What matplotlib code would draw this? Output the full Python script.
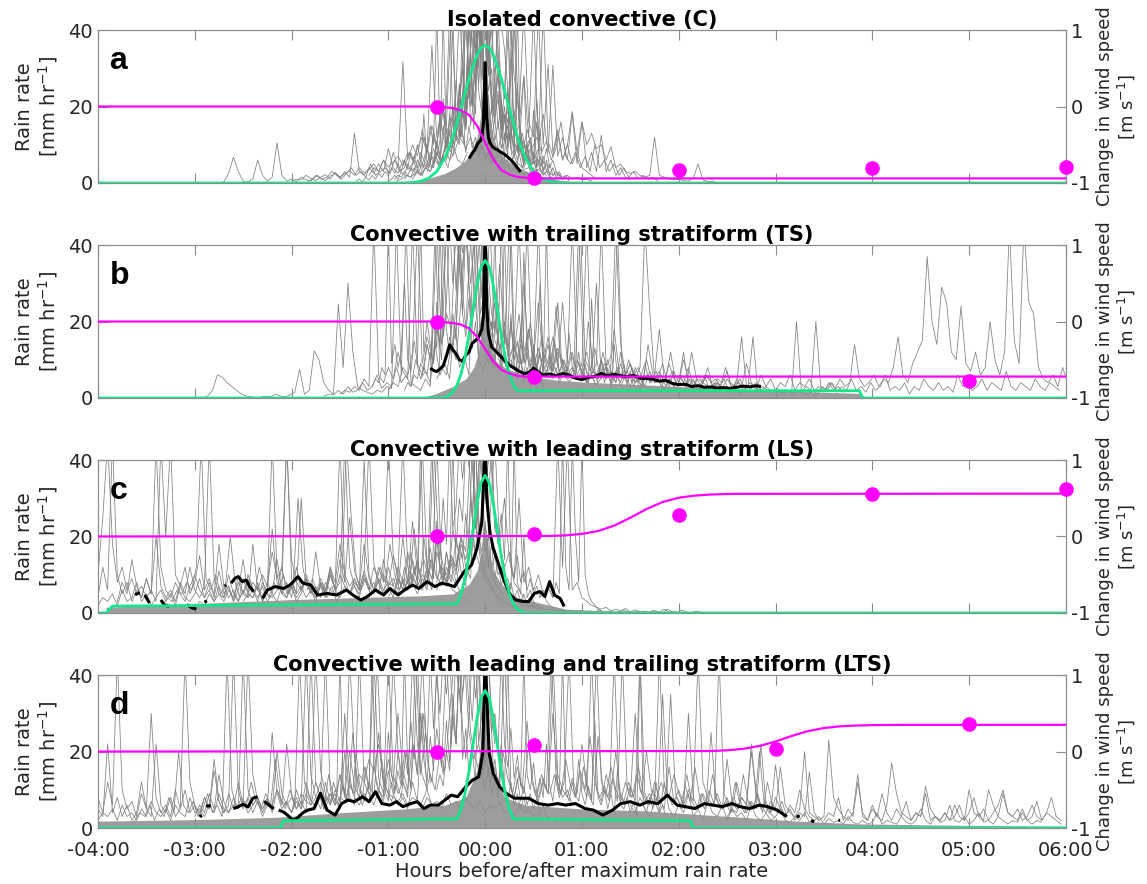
import numpy as np
import matplotlib
matplotlib.use("Agg")
import matplotlib.pyplot as plt

plt.rcParams["font.family"] = ["DejaVu Sans"]
plt.rcParams["axes.unicode_minus"] = False

GRAY_STEP = 3  # default minutes between samples of an event trace

TITLES = [
    "Isolated convective (C)",
    "Convective with trailing stratiform (TS)",
    "Convective with leading stratiform (LS)",
    "Convective with leading and trailing stratiform (LTS)",
]
LETTERS = ["a", "b", "c", "d"]
HOUR_TICKS = [-4, -3, -2, -1, 0, 1, 2, 3, 4, 5, 6]

# event traces: (start minute, rain rates[, sample step in minutes])

# ---------------- panel a: isolated convective ----------------
gray_a = [
    (-165, [0, 0.3, 2.5, 6.8, 3, 0.5, 0.3, 1, 6, 2, 0.5, 1.5, 10.5, 2, 0.5, 1, 0.3, 1.5, 0.8, 0.5,
            2, 1.2, 0.6, 1.8, 2.5, 1.2, 3, 1.5, 13, 3, 2, 4, 2.5, 5, 3, 9, 4, 2.5, 6, 3.5, 5]),
    (-72, [2, 4, 3, 6, 2.5, 8, 4, 31.7, 6, 10, 7, 14, 9, 36, 12, 20, 15, 45, 18, 26, 45, 20, 30, 45,
           24, 38, 45, 30, 22, 45, 28, 18, 45, 16, 12, 45, 10, 31, 8, 14, 6, 10, 5, 8, 4, 3, 2, 1]),
    (-45, [1, 3, 2, 5, 4, 8, 5, 12, 9, 18, 12, 45, 15, 25, 40, 22, 45, 28, 45, 35, 20, 45, 15, 28,
           12, 45, 10, 18, 8, 30.8, 7, 12, 6, 18.2, 5, 16, 4, 8, 3, 12.5, 3, 6, 2, 4, 1.5, 1]),
    (30, [6, 9, 45, 11, 7, 13, 6, 10, 18.7, 8, 16, 10, 13, 9, 10, 6, 9.5, 4, 5, 3, 2.5, 3, 2, 1.5,
          2, 12, 2, 1.5, 1, 0.8, 1, 0.6, 0.5, 1.2, 5, 0.8, 0.3, 0.5, 0]),
    (-30, [3, 6, 10, 8, 15, 12, 20, 26, 45, 38, 45, 30, 45, 24, 16, 20, 12, 15, 9, 11, 7, 6, 4]),
    (-40, [2, 4, 3, 7, 5, 9, 14, 10, 22, 17, 30, 45, 26, 45, 34, 19, 28, 14, 20, 11, 9, 13, 7, 5, 6, 3, 2]),
    (-55, [0.5, 1, 2, 1.5, 3, 2, 4, 3, 6, 4, 9, 6, 8, 12, 10, 45, 14, 45, 25, 10, 18, 45, 9, 15, 6,
           10, 4, 7, 3, 2]),
    (-120, [0.5, 1, 0.8, 2, 1.2, 0.6, 1.5, 2.2, 1, 2.8, 1.6, 2.4, 3.2, 2, 4, 2.6, 3.5, 5, 3, 6, 4.2,
            5.5, 7, 4.5, 8, 6, 9, 12, 8, 15, 10, 20, 13, 17, 11, 14, 9, 12, 8, 10, 7, 9, 6, 8, 5,
            6.5, 4, 5, 3.5, 4, 3, 3.5, 2.5, 3, 2, 2.5, 1.5, 2, 1, 1.5, 0.8, 1, 0.5]),
    (-50, [1, 2, 1.5, 4, 3, 6, 4, 9, 5, 14, 7, 11, 22, 9, 16, 45, 12, 20, 30, 14, 45, 25, 18, 45, 36,
           45, 28, 45, 20, 33, 15, 24, 45, 12, 19, 9, 15, 28, 8, 12, 6, 22, 7, 5, 9, 4, 6, 3, 2, 1], 2),
    (-36, [3, 5, 4, 8, 6, 12, 9, 18, 11, 27, 14, 45, 19, 24, 45, 33, 45, 40, 26, 45, 22, 17, 30, 13,
           20, 10, 45, 11, 8, 14, 6, 10, 5, 19, 4, 7, 3, 5, 2, 1], 2),
    (-60, [0.5, 1, 2, 1, 3, 2, 5, 3, 7, 4, 8, 6, 10, 5, 13, 9, 17, 12, 21, 45, 16, 25, 45, 31, 22, 45,
           38, 26, 45, 19, 14, 23, 11, 17, 8, 13, 6, 25, 9, 7, 5, 12, 4, 6, 3, 4, 2, 1.5, 1, 0.5], 2),
    (-24, [6, 9, 7, 13, 10, 19, 15, 28, 45, 35, 45, 27, 45, 33, 21, 16, 24, 12, 18, 9, 14, 7, 45, 8,
           5, 10, 4, 6, 3, 2], 2),
    (-44, [2, 3, 2.5, 5, 4, 7, 5, 10, 6, 15, 9, 13, 20, 12, 26, 18, 45, 22, 29, 45, 24, 18, 27, 14, 20,
           11, 16, 9, 13, 7, 35, 9, 6, 10, 5, 8, 4, 6, 3, 4, 2, 3, 1.5, 1], 2),
    (-80, [0.5, 1, 0.3, 1.5, 0.8, 2, 1, 2.5, 1.5, 3, 2, 4, 2.5, 5, 3, 6, 4, 8, 5, 10, 6, 12, 8, 15, 10,
           45, 12, 20, 14, 9, 17, 11, 25, 13, 8, 15, 9, 12, 7, 10, 6, 8, 5, 7, 4, 6, 3.5, 5, 3, 4,
           2.5, 3, 2, 2.5, 1.5, 2, 1, 1.5, 0.8, 1, 0.5, 0.8, 0.3], 2),
    (20, [10, 7, 14, 9, 12, 8, 11, 6, 9, 16, 7, 5, 8, 4, 7, 3, 10, 4, 6, 3, 5, 2, 4, 1.5, 3, 1, 2, 1,
          1.5, 0.5]),
    (-110, [0.5, 1, 2, 1, 1.5, 3, 2, 1, 2.5, 4, 2, 3, 1.5, 5, 2, 3, 4, 2.5, 6, 3, 4, 8, 5, 3, 6, 4, 9,
            5, 7, 4, 10, 6, 5, 8]),
    (-56, [1, 2, 1.5, 3, 2, 4, 3, 6, 4, 18, 5, 8, 6, 11, 7, 45, 9, 13, 10, 17, 12, 24, 15, 45, 20, 30,
           45, 38, 25, 45, 18, 28, 14, 22, 11, 17, 9, 45, 8, 12, 6, 10, 5, 8, 4, 14, 3, 6, 2, 4, 1.5,
           3, 1, 2, 0.5], 2),
    (-16, [12, 18, 14, 26, 20, 45, 30, 45, 36, 24, 30, 18, 22, 14, 18, 11, 14, 9, 26, 8, 11, 6, 9, 5,
           16, 4, 7, 3, 5, 2, 3, 1.5], 2),
]
core_a_t = [-45, -35, -25, -18, -12, -8, -5, -3, -1.5, 0, 1.5, 3, 5, 8, 12, 18, 25, 35, 45, 60]
core_a_v = [0, 1.2, 2.5, 4.0, 6.0, 8.5, 12, 17, 24, 32, 24, 17, 12, 8.5, 6.5, 4.5, 3.2, 1.8, 0.8, 0]
black_a = [(-10, 6.4), (-8, 7.8), (-6, 9.0), (-4.5, 10.4), (-3, 11.0), (-2, 12.0), (-1, 16.0),
           (0, 31.5), (1, 17.0), (2, 12.0), (3, 10.5), (4.5, 9.5), (6, 9.0), (8, 8.6), (10, 8.0),
           (12, 7.5), (14, 6.8), (16, 6.0), (18, 5.1), (20, 4.0), (22, 2.9)]
green_a_t = [-240, -55, -50, -45, -40, -35, -30, -25, -20, -15, -10, -5, -2.5, 0,
             2.5, 5, 10, 15, 20, 25, 30, 35, 40, 45, 50, 55, 360]
green_a_v = [0, 0, 0.03, 0.14, 0.45, 1.25, 3.0, 6.5, 12.0, 19.4, 27.4, 33.6, 35.4, 36,
             35.4, 33.6, 27.4, 19.4, 12.0, 6.5, 3.0, 1.25, 0.45, 0.14, 0.03, 0, 0]
wind_a_t = [-240, -30, -25, -20, -15, -10, -5, 0, 5, 10, 15, 20, 25, 30, 360]
wind_a_v = [0, 0, -0.01, -0.02, -0.05, -0.11, -0.25, -0.47, -0.69, -0.83, -0.89, -0.92, -0.93, -0.94, -0.94]
obs_a_h = [-0.5, 0.5, 2, 4, 6]
obs_a_v = [0.0, -0.94, -0.83, -0.80, -0.79]

# ---------------- panel b: trailing stratiform ----------------
gray_b = [
    (-175, [0, 0.5, 2, 6, 5.5, 4, 3, 2, 1, 0.5, 0.3, 0, 0.2, 0.5, 0.3, 1, 0.5, 0.3, 0.8, 1.5, 7.5,
            1, 2, 12.3, 10, 4, 2, 1, 24.5, 8, 30, 12, 3, 2, 1.5, 1, 2, 1.5, 3, 2.5, 45, 6, 45, 4,
            3, 2, 5, 3, 45, 6]),
    (-60, [2, 4, 3, 8, 6, 12, 45, 9, 16, 11, 45, 14, 22, 18, 45, 30, 45, 40, 26, 45, 20, 45, 16, 35,
           14, 45, 12, 22, 10, 18, 9, 45, 8, 14, 7, 12, 9, 6, 8, 5, 7, 4, 6, 3]),
    (-30, [5, 8, 6, 14, 10, 25, 45, 30, 45, 22, 28, 15, 20, 13, 17, 11, 14, 45, 12, 18, 10, 25, 9,
           16, 8, 13, 10, 7, 12, 6, 9, 45, 8, 6, 10, 5, 7, 4, 9, 5, 6, 4, 5, 3]),
    (0, [40, 20, 15, 12, 18, 10, 14, 9, 30, 11, 8, 13, 7, 10, 16, 8, 25, 9, 45, 10, 7, 12, 6, 9, 45,
         8, 11, 45, 14, 6, 9, 5, 8, 45, 23, 5, 7, 4, 9, 5, 6, 4, 8, 3, 5, 4, 6, 3, 4, 2.5, 5, 3, 4,
         16, 3, 2.5, 4, 2, 3, 2]),
    (40, [6, 8, 5, 7, 4, 6, 9, 5, 20, 7, 4, 6, 10, 5, 45, 6, 4, 8, 5, 3, 6, 4, 7, 3, 5, 12, 4, 6, 3,
          5, 4, 3, 6, 2, 4, 3, 5, 2, 3, 4, 2, 3, 16, 2, 3, 2, 1.5, 2.5, 1, 2, 1.5, 20, 2, 1, 1.5, 0.5]),
    (190, [1, 2, 1.5, 3, 2, 20, 3, 2, 4, 2.5, 5, 3, 4, 14, 5, 3, 4, 6, 3, 5, 4, 8, 16, 6, 4, 9, 12,
           15, 37, 20, 14, 29, 25, 12, 10, 24, 9, 7, 12, 6, 8, 20, 10, 6, 12, 45, 15, 9, 45, 25, 22,
           8, 5, 4, 6, 3, 8, 4]),
    (200, [1, 2, 1, 3, 2, 4, 1.5, 3, 2, 5, 2, 3, 1.5, 4, 2, 3, 6, 2, 3, 2, 4, 1, 3, 2, 5, 3, 2, 4, 2,
           3, 1.5, 6, 3, 4, 2, 3, 5, 2, 4, 3, 2, 7, 3, 2, 4, 3, 2, 5, 3, 2, 4, 3, 2]),
    (60, [9, 4, 6, 3, 10, 5, 7, 4, 12, 6, 3, 8, 5, 9, 4, 6, 18, 5, 3, 7, 4, 10, 5, 3, 6, 4, 8, 3, 5,
          4, 7, 2, 5, 3, 9, 4, 2, 6, 3, 5, 2, 4, 3, 6, 2, 4, 3, 5, 2, 3, 1.5, 4, 2, 3, 1.5, 2]),
    (-50, [2, 4, 3, 6, 5, 9, 7, 14, 10, 20, 13, 45, 16, 25, 45, 30, 45, 35, 22, 45, 28, 18, 45, 24,
           15, 30, 12, 20, 10, 16, 9, 45, 11, 8, 14, 7, 10, 6, 12, 5, 9, 4, 8, 3], 2),
    (-40, [5, 8, 6, 12, 9, 18, 14, 30, 45, 40, 45, 28, 45, 22, 16, 26, 13, 20, 10, 45, 12, 9, 15, 8,
           18, 7, 11, 6, 22, 8, 5, 10, 4, 7, 3, 6, 2], 2),
    (-24, [10, 16, 12, 26, 45, 38, 45, 30, 20, 25, 15, 18, 12, 14, 9, 45, 11, 8, 13, 7, 20, 9, 6, 10,
           5, 8, 4, 12, 6, 5, 3], 2),
    (10, [12, 8, 10, 7, 14, 9, 20, 8, 11, 6, 9, 15, 7, 10, 5, 8, 45, 9, 6, 7, 5, 12, 6, 4, 8, 5, 7, 4,
          6, 3, 10, 5, 4, 6, 3, 5, 2, 4, 3, 2]),
    (30, [8, 5, 12, 7, 9, 25, 6, 8, 5, 10, 7, 4, 6, 30, 5, 8, 4, 7, 3, 6, 9, 4, 5, 3, 7, 4, 6, 2, 5, 3,
          4, 12, 3, 5, 2, 4, 3, 2, 4, 2, 3, 1.5, 2, 1]),
    (-100, [0.5, 1, 0.8, 2, 1, 3, 1.5, 2, 4, 2, 3, 6, 2.5, 4, 3, 8, 4, 6, 3, 10, 5, 7, 4, 14, 6, 9, 5,
            20, 8, 11, 6, 45, 10, 7, 13, 8]),
    (-70, [3, 5, 4, 8, 6, 45, 9, 14, 8, 12, 30, 10, 7, 15, 9, 45, 12, 20, 14, 9, 25, 13, 45, 18, 11,
           22, 15, 45, 28, 18, 35, 45, 40, 45, 26, 45, 32, 22, 18, 25, 14, 20, 12, 45, 15, 10, 18, 9,
           14, 8, 12, 7, 30, 9, 6, 11, 5, 8, 4, 6], 2),
    (0, [30, 22, 18, 25, 14, 45, 16, 12, 20, 10, 15, 9, 38, 11, 8, 14, 7, 12, 6, 45, 9, 7, 13, 6, 10,
         5, 17, 8, 6, 12, 5, 9, 4, 26, 7, 5, 10, 4, 8, 3, 14, 6, 4, 9, 3, 7, 3, 5, 2, 4], 2),
    (20, [14, 9, 45, 11, 8, 16, 10, 7, 24, 9, 6, 12, 8, 45, 10, 7, 13, 6, 9, 5, 18, 7, 5, 10, 6, 8, 4,
          14, 6, 5, 9, 4, 7, 3, 6, 4, 12, 5, 3, 6, 4, 5, 3, 8, 4, 3, 5, 2, 4, 3, 2]),
    (-90, [1, 2, 1.5, 3, 2, 5, 3, 45, 6, 4, 8, 5, 12, 7, 5, 45, 9, 6, 14, 8, 20, 10, 45, 12, 18, 45]),
]
core_b_t = [-40, -30, -20, -12, -7, -4, -2, 0, 2, 4, 7, 12, 20, 30, 45, 60, 90, 120, 150, 180, 210, 232, 236]
core_b_v = [0, 1.2, 3.0, 5, 8, 12, 18, 28, 18, 12, 9.5, 8, 6.5, 5.5, 4.6, 4.2, 3.6, 3.0, 2.4, 1.9, 1.5, 1.2, 0]
black_b = [(-34, 7.8), (-32, 7.2), (-30, 6.9), (-28, 7.6), (-26, 8.4), (-24, 11.0), (-22, 13.9),
           (-20, 12.6), (-18, 11.5), (-16, 10.0), (-14, 9.6), (-12, 11.2), (-10, 12.0), (-8, 14.3),
           (-6, 15.0), (-4, 16.0), (-2, 18.0), (-1, 22), (0, 45), (1, 24), (2, 17), (4, 13.4),
           (6, 12.5), (9, 11.2), (12, 9.8), (15, 8.6), (18, 7.8), (21, 7.0), (24, 6.4), (27, 6.6),
           (30, 7.8), (33, 6.8), (36, 6.0), (40, 6.3), (44, 5.8), (48, 6.4), (52, 6.0), (56, 5.2),
           (60, 4.8), (64, 5.4), (68, 5.6), (72, 6.4), (76, 5.8), (80, 6.2), (84, 5.8), (88, 5.6),
           (92, 5.9), (96, 5.2), (100, 5.1), (104, 4.9), (108, 4.4), (112, 4.6), (116, 3.8),
           (120, 3.5), (124, 3.6), (128, 3.0), (132, 3.2), (136, 2.8), (140, 2.9), (144, 2.6),
           (148, 2.7), (152, 2.5), (156, 2.8), (160, 3.1), (164, 2.9), (168, 3.2), (171, 3.0)]
green_b_t = [-240, -25, -22.5, -20, -17.5, -15, -12.5, -10, -7.5, -5, -2.5, 0,
             2.5, 5, 7.5, 10, 12.5, 15, 17.5, 20, 232, 234, 360]
green_b_v = [0, 0, 0.7, 1.6, 3.3, 6.2, 10.6, 16.5, 23.2, 29.6, 34.3, 36,
             34.3, 29.6, 23.2, 16.5, 10.6, 6.2, 3.3, 1.9, 1.9, 0, 0]
wind_b_t = [-240, -30, -25, -20, -15, -10, -5, 0, 5, 10, 15, 20, 25, 30, 360]
wind_b_v = [0, 0, -0.01, -0.02, -0.04, -0.09, -0.2, -0.36, -0.52, -0.63, -0.68, -0.71, -0.72, -0.72, -0.72]
obs_b_h = [-0.5, 0.5, 5]
obs_b_v = [0.0, -0.72, -0.78]

# ---------------- panel c: leading stratiform ----------------
gray_c = [
    (-240, [10, 25, 45, 18, 8, 12, 6, 9, 5, 7, 4, 6, 3, 45, 20, 45, 10, 7, 12, 5, 8, 15, 6, 9, 4, 11,
            5, 7, 3, 6, 14, 5, 4, 8, 3, 6, 45, 10, 5, 8, 4, 12, 6, 9, 5, 16, 7, 4, 10, 6, 14, 8, 25,
            11, 7, 18, 9, 6, 12, 8, 45, 15, 10, 45, 12, 8, 14, 7, 11, 6, 20, 9, 7, 13, 8, 5]),
    (-200, [2, 4, 3, 6, 5, 8, 6, 12, 45, 9, 6, 10, 5, 7, 20, 8, 4, 6, 9, 5, 12, 7, 4, 8, 6, 10, 5,
            7, 30, 12, 6, 9, 5, 8, 4, 7, 3, 6, 45, 25, 10, 6, 9, 5, 7, 12, 8, 18, 10, 6, 9, 7, 22,
            10, 14, 9, 45, 20, 12, 8, 6, 5, 4, 3]),
    (-150, [3, 5, 8, 6, 10, 7, 16, 9, 12, 45, 14, 8, 6, 10, 7, 5, 9, 6, 12, 8, 18, 10, 7, 9, 6, 11,
            45, 13, 8, 10, 7, 15, 9, 6, 8, 24, 10, 7, 12, 9, 16, 11, 8, 14, 10, 20, 12, 9, 45, 16,
            11, 25, 45, 18, 30, 14, 8, 6, 4]),
    (-30, [6, 10, 8, 15, 12, 20, 16, 45, 26, 45, 30, 45, 22, 18, 12, 16, 9, 30, 8, 12, 6, 10, 5, 7,
           4, 45, 12, 45, 6, 8, 4, 3, 2, 1.5, 1, 1.5, 0.5, 1, 0.5, 1.2, 0.3, 0.8, 0.2, 0.5, 0.2,
           0.6, 0.2, 1.0, 0.2, 0.5, 0]),
    (-240, [2, 4, 3, 5, 2, 6, 3, 4, 8, 3, 5, 2, 4, 6, 3, 5, 2, 7, 4, 3, 5, 9, 4, 6, 3, 5, 4, 7, 3,
            10, 5, 4, 6, 3, 8, 5, 4, 6, 12, 5, 7, 4, 6, 9, 5, 7, 4, 8, 6, 5, 10, 7, 5, 8, 6, 11, 7,
            5, 9, 6, 8, 7, 12, 8, 6, 9, 7, 10, 8, 14, 9, 12, 10, 15, 11, 18, 14, 20, 16, 12, 9, 7,
            5, 4, 3, 2, 1.5, 1, 0.5]),
    (20, [3, 2, 1.5, 2, 1, 1.5, 0.8, 1, 0.5, 0.8, 0.4, 0.7, 0.3, 0.6, 0.2, 0.5, 0.3, 0.8, 0.2, 0.4,
          0.1, 0.3, 0.8, 0.2, 0.1, 0.5, 0.2, 0.1, 0.6, 0.3, 0.1, 1.0, 0.2, 0.1, 0.7, 0.2, 0.1, 0.5,
          0.2, 0]),
    (-228, [3, 8, 5, 14, 7, 4, 9, 5, 45, 12, 6, 4, 8, 5, 3, 7, 10, 6, 4, 8, 5, 18, 7, 4, 6, 3, 9, 5,
            4, 7, 3, 6, 22, 8, 5, 4, 7, 3, 5, 9, 6, 4, 8, 5, 12, 6, 45, 9, 5, 7, 4, 10, 6, 8, 5,
            14, 7, 9, 6, 20, 8, 10, 7, 45, 12, 9]),
    (-240, [4, 12, 6, 45, 10, 5, 8, 3, 6, 4, 9, 5, 20, 7, 4, 6, 3, 8, 5, 12, 6, 4, 7, 45, 9, 5, 3, 6,
            4, 8, 5, 10, 6, 4, 7, 3, 5, 14, 6, 4, 8, 5, 30, 9, 6, 4, 7, 5, 10, 6, 8, 45, 12, 7, 5, 9,
            6, 12, 8, 5, 7, 4, 10, 6, 16, 8, 5, 9, 6, 45, 10, 7, 12, 8, 20, 11, 7, 30, 14, 45, 18,
            12, 8, 6, 4]),
    (-180, [1, 3, 2, 5, 3, 7, 4, 10, 5, 3, 6, 4, 18, 6, 4, 8, 5, 3, 7, 45, 9, 5, 7, 4, 6, 3, 8, 5,
            11, 6, 4, 7, 5, 9, 6, 40, 10, 6, 8, 5, 12, 7, 5, 9, 6, 14, 8, 6, 10, 7, 45, 12, 8, 10, 7,
            16, 9, 12, 25, 14, 10, 8, 5, 3, 2]),
    (-60, [4, 6, 5, 9, 7, 12, 8, 16, 10, 14, 9, 20, 12, 17, 11, 24, 14, 30, 18, 45, 22, 28, 45, 35,
           45, 40, 25, 45, 20, 16, 24, 12, 18, 9, 14, 7, 11, 5, 8, 4, 6, 3, 5, 2, 4, 1.5, 2, 1], 2),
    (-30, [8, 12, 9, 16, 12, 22, 17, 30, 24, 45, 38, 45, 30, 22, 26, 16, 20, 12, 15, 10, 12, 8, 9, 6,
           45, 8, 5, 20, 4, 6, 3, 2, 1.5, 1], 2),
    (40, [6, 4, 8, 5, 45, 12, 6, 45, 20, 8, 45, 10, 5, 3, 2, 1, 0.5], 2),
    (-50, [6, 9, 7, 12, 8, 45, 10, 7, 14, 9, 20, 11, 8, 16, 10, 45, 12, 18, 14, 26, 17, 45, 22, 30,
           45, 40, 28, 45, 24, 18, 26, 14, 45, 12, 9, 15, 8, 11, 6, 9, 5, 7, 4, 6, 3, 2, 1.5, 1], 2),
]
core_c_t = [-235, -200, -160, -120, -80, -40, -20, -10, -5, -2, 0, 2, 5, 10, 20, 30, 40, 50, 70, 100, 140]
core_c_v = [1.5, 2.0, 2.8, 3.5, 4.0, 4.5, 5.0, 7.5, 11, 17, 24, 17, 11, 7.5, 4.0, 3.0, 2.0, 1.0, 0.6, 0.4, 0]
black_c = [(-217, 4.8), (-214, 5.3), None,
           (-211, 4.7), (-208, 2.6), None,
           (-201, 3.4), (-199, 2.2), (-196, 1.7), None,
           (-185, 2.2), (-182, 1.4), (-179, 1.0), None,
           (-174, 2.8), (-172.5, 3.2), None,
           (-161.5, 7.0), (-160.5, 7.3), None,
           (-157.5, 7.8), (-155, 9.1), (-153, 9.5), (-150.5, 8.2), (-148, 8.6), (-146, 6.9),
           (-143.5, 5.6), None,
           (-138, 3.8), (-135, 6.0), (-130, 6.9), (-125, 6.4), (-121, 7.3), (-116, 9.5),
           (-113, 7.8), (-108, 7.3), (-104, 4.7), (-98, 5.1), (-92, 4.7), (-86, 6.0), (-82, 4.7),
           (-77, 3.4), (-73, 4.3), (-68, 6.0), (-63, 4.7), (-59, 6.4), (-54, 4.7), (-50, 6.0),
           (-45, 7.3), (-41, 6.4), (-36, 8.2), (-31, 6.9), (-27, 7.8), (-22, 7.3), (-19, 6.9),
           (-13, 10.8), (-8.5, 12.5), (-5, 16.9), (-2, 23.9), (0, 45), (1, 30), (3, 21), (5, 17),
           (8.5, 12.5), (12, 8.2), (15.5, 4.7), (19, 3.4), (23.5, 3.0), (27, 3.0), (30.5, 5.1),
           (34, 5.6), (37, 4.3), (40, 8.2), (43, 4.7), (46.5, 3.8), (49, 1.7)]
green_c_t = [-240, -235, -231, -17.5, -15, -12.5, -10, -7.5, -5, -2.5, 0,
             2.5, 5, 7.5, 10, 12.5, 15, 17.5, 20, 22.5, 25, 360]
green_c_v = [0, 0, 1.8, 2.4, 4.9, 9.0, 14.8, 21.8, 28.8, 34.1, 36,
             34.1, 28.8, 21.8, 14.8, 9.0, 4.9, 2.4, 1.0, 0.4, 0, 0]
wind_c_t = [-240, 40, 50, 60, 70, 80, 90, 100, 110, 120, 130, 140, 150, 160, 360]
wind_c_v = [0, 0.007, 0.015, 0.034, 0.072, 0.142, 0.245, 0.359, 0.451, 0.507, 0.535, 0.549, 0.556, 0.558, 0.56]
obs_c_h = [-0.5, 0.5, 2, 4, 6]
obs_c_v = [0.0, 0.03, 0.28, 0.55, 0.62]

# ---------------- panel d: leading and trailing stratiform ----------------
gray_d = [
    (-240, [5, 3, 22, 4, 8, 3, 6, 2, 4, 12, 5, 3, 22, 6, 4, 8, 3, 5, 10, 4, 6, 3, 8, 5, 15, 7, 4, 6,
            45, 10, 5, 8, 4, 7, 3, 6, 25, 9, 5, 7, 4, 10, 6, 45, 14, 8, 5, 12, 7, 9, 5, 20, 8, 6,
            45, 12, 9, 6, 10, 7, 15, 9, 6, 8, 5, 12, 7, 30, 10, 6]),
    (-220, [1, 2, 4, 3, 6, 2, 5, 3, 8, 4, 20, 6, 4, 7, 3, 5, 9, 4, 6, 3, 45, 10, 5, 8, 6, 12, 7, 5,
            9, 6, 18, 8, 5, 10, 6, 45, 12, 8, 6, 9, 5, 14, 8, 6, 11, 7, 25, 9, 6, 10, 8, 45, 15, 10,
            7, 12, 8, 20, 10, 45, 14, 25, 12]),
    (-120, [4, 7, 5, 9, 6, 12, 8, 45, 10, 7, 14, 9, 20, 11, 8, 16, 10, 45, 13, 9, 18, 12, 30, 15, 10,
            22, 14, 45, 18, 12, 26, 16, 45, 22, 45, 30, 45, 25, 18, 14, 20, 12, 16, 10, 45, 12, 8,
            14, 9, 22, 11, 8, 13, 9, 30, 12, 8, 10, 6]),
    (-40, [6, 9, 14, 10, 20, 15, 30, 45, 35, 45, 25, 18, 22, 14, 45, 16, 11, 20, 13, 9, 16, 10, 28,
           12, 8, 14, 10, 45, 13, 9, 18, 11, 8, 15, 10, 24, 12, 8, 11, 7, 45, 10, 7, 12, 8, 16, 9,
           6, 10, 7, 35, 9, 6, 8, 5, 14, 7, 5, 9, 6, 25, 8, 5, 7, 4, 12, 6, 4, 7, 5, 20, 6, 4, 3]),
    (30, [10, 7, 12, 9, 45, 14, 10, 8, 13, 9, 22, 11, 8, 45, 12, 9, 16, 10, 7, 12, 8, 30, 10, 7, 9,
          6, 45, 11, 8, 14, 9, 6, 10, 7, 45, 12, 8, 6, 9, 5, 18, 7, 5, 8, 6, 22, 9, 6, 4, 7, 5, 16,
          6, 4, 3, 5, 20, 4, 3, 2]),
    (150, [3, 5, 4, 8, 6, 20, 9, 5, 7, 4, 16.5, 6, 3, 5, 2, 4, 3, 14.7, 4, 2, 3, 23, 8, 5, 3, 2, 4,
           14, 3, 2, 5, 3, 2, 6, 17, 9, 4, 3, 2, 4, 3, 9, 2, 3, 2, 4, 2, 3, 6, 2, 10, 4, 3, 2, 10, 6,
           3, 9, 4, 3, 2, 5, 2, 3, 7, 2, 4, 8, 3, 2]),
    (-240, [2, 4, 3, 5, 2, 6, 3, 4, 2, 5, 3, 7, 4, 3, 5, 2, 6, 4, 3, 8, 4, 5, 3, 6, 4, 9, 5, 4, 6,
            5, 7, 4, 6, 8, 5, 7, 6, 10, 7, 6, 8, 5, 9, 7, 6, 8, 12, 7, 9, 6, 8, 7, 11, 9, 14, 12,
            18, 15, 22, 12, 9, 8, 7, 9, 6, 8, 7, 5, 8, 6, 7, 5, 9, 6, 7, 5, 8, 6, 5, 7, 4, 6, 5,
            7, 4, 5, 3, 6, 4, 5, 3, 4, 2, 3, 2, 1.5]),
    (90, [6, 4, 8, 5, 3, 7, 4, 12, 5, 3, 6, 4, 9, 3, 5, 2, 7, 4, 3, 6, 2, 5, 3, 4, 2, 6, 3, 2, 4, 2,
          3, 5, 2, 1.5, 3, 2, 4, 1.5, 2, 3, 1, 2.5, 1.5, 2, 1, 3, 1.5, 1, 2, 1, 1.5, 4, 1, 2, 1.5,
          1, 3, 1.5, 1, 2, 5, 2, 1, 3, 1.5, 2, 6, 2, 1.5, 3, 1, 2, 4, 1.5, 2, 1, 3, 2, 1, 2, 1.5, 4,
          2, 1, 2, 1.5]),
    (-240, [8, 4, 12, 6, 45, 10, 5, 7, 3, 9, 5, 30, 8, 4, 6, 3, 10, 5, 45, 12, 6, 4, 8, 5, 18, 7, 4,
            9, 5, 12, 6, 45, 14, 7, 5, 8, 4, 10, 6, 22, 9, 5, 7, 4, 45, 12, 8, 5, 9, 6, 14, 8, 45,
            18, 10, 7, 12, 8, 25, 11, 7, 45, 20, 12, 9]),
    (-180, [3, 6, 4, 9, 5, 14, 7, 4, 8, 5, 45, 10, 6, 8, 4, 7, 5, 20, 9, 6, 4, 8, 5, 12, 7, 45, 15,
            9, 6, 10, 7, 30, 12, 8, 6, 9, 7, 16, 10, 8, 45, 14, 9, 12, 8, 45, 22, 14, 10]),
    (-60, [8, 12, 9, 15, 11, 20, 14, 28, 18, 45, 22, 30, 20, 45, 26, 40, 30, 45, 35, 45, 28, 22, 45,
           18, 26, 14, 20, 12, 45, 14, 10, 16, 9, 13, 8, 22, 10, 7, 12, 6, 9, 5, 8, 4], 2),
    (-30, [10, 14, 11, 20, 15, 30, 22, 45, 35, 45, 40, 28, 45, 22, 30, 16, 24, 13, 18, 11, 15, 9, 45,
           10, 8, 13, 7, 11, 6, 9, 5, 8, 4, 6, 3], 2),
    (60, [12, 8, 45, 10, 7, 14, 9, 20, 8, 6, 11, 7, 45, 9, 6, 12, 8, 5, 16, 7, 10, 6, 30, 8, 5, 9, 6,
          14, 7, 5, 8, 4, 12, 6, 4, 7, 5, 22, 6, 4, 8, 5, 3, 6, 4, 10, 5, 3, 2]),
    (210, [2, 4, 3, 8, 2, 5, 3, 12, 4, 2, 6, 3, 9, 4, 2, 5, 3, 7, 2, 4, 3, 11, 5, 3, 2, 4, 2, 6, 3, 2,
           4, 8, 3, 5, 2, 4, 6, 10, 4, 3, 5, 2, 3, 6, 3, 2, 4, 3, 2, 1]),
    (-100, [5, 8, 6, 12, 9, 45, 11, 7, 14, 9, 20, 12, 8, 16, 10, 45, 13, 9, 18, 11, 25, 14, 10, 20,
            12, 45, 16, 11, 22, 14, 30, 18, 12, 24, 15, 45, 20, 14, 28, 17, 35, 22, 45, 26, 18, 30,
            45, 34, 45, 28, 40, 45, 30, 22], 2),
    (0, [45, 34, 25, 30, 20, 45, 22, 16, 26, 13, 19, 11, 45, 14, 10, 17, 9, 13, 8, 22, 11, 7, 14, 9,
         45, 10, 7, 12, 8, 18, 9, 6, 11, 7, 28, 8, 6, 10, 5, 9, 4, 15, 6, 5, 8, 4, 7, 3, 45, 6, 4, 8,
         5, 12, 4, 6, 3], 2),
    (40, [9, 14, 8, 12, 45, 10, 7, 16, 9, 6, 24, 10, 8, 13, 7, 45, 11, 8, 14, 9, 20, 10, 7, 12, 8, 35,
          9, 6, 11, 7, 16, 8, 5, 10, 6, 45, 9, 6, 8, 5, 14, 7, 5, 9, 4, 12, 6, 4, 7, 3]),
]
core_d_t = [-240, -180, -130, -90, -50, -25, -12, -5, -2, 0, 2, 5, 12, 25, 60, 100, 130, 160, 190, 230, 300, 360]
core_d_v = [1.8, 2.2, 2.8, 4.0, 5.0, 6.0, 8, 15, 24, 32, 24, 15, 8, 6.0, 5.0, 4.5, 3.6, 2.8, 1.9, 1.1, 0.7, 0.5]
black_d = [(-177, 3.0), (-175.5, 3.3), None,
           (-173, 5.7), (-170, 5.9), None,
           (-156, 5.1), (-153, 5.6), (-150, 6.2), (-147, 5.5), (-144, 7.8), (-141, 8.2), None,
           (-137, 7.0), (-134, 6.0), (-131, 5.0), None,
           (-128, 4.7), (-125, 4.2), (-122, 3.2), (-119, 2.0), (-116, 2.8), (-113, 4.0),
           (-110, 4.7), (-106, 5.1), (-102, 9.1), (-98, 4.7), (-93, 3.4), (-89, 6.4), (-85, 7.3),
           (-81, 6.9), (-76, 8.2), (-72, 6.9), (-68, 9.5), (-64, 6.4), (-59, 6.0), (-55, 6.9),
           (-51, 5.6), (-46, 6.4), (-42, 6.9), (-38, 5.1), (-34, 6.0), (-29, 6.0), (-25, 7.3),
           (-21, 8.6), (-17, 8.2), (-12, 10.8), (-8, 12.5), (-4, 13.4), (-1.5, 19.5), (0, 45),
           (2.5, 19.5), (5, 14.3), (9, 10.8), (13, 9.1), (18, 7.8), (22, 7.8), (27, 7.8),
           (33, 6.4), (39, 6.0), (45, 6.4), (50, 6.0), (56, 6.4), (62, 5.1), (67, 4.7), (73, 3.4),
           (79, 4.7), (84, 6.4), (90, 6.9), (96, 6.0), (101, 6.9), (107, 6.4), (113, 8.6),
           (119, 6.0), (124, 5.6), (130, 5.1), (136, 6.4), (141, 6.0), (147, 5.6), (153, 6.4),
           (158, 5.6), (164, 5.1), (170, 6.0), (175, 5.6), (181, 4.7), (187, 3.0), None,
           (193, 3.2), (195, 2.9), None,
           (202, 2.0), (204, 1.6), None,
           (219, 2.1), (220, 2.0)]
green_d_t = [-240, -127, -125, -17.5, -15, -12.5, -10, -7.5, -5, -2.5, 0,
             2.5, 5, 7.5, 10, 12.5, 15, 17.5, 127, 129, 360]
green_d_v = [0, 0, 1.9, 2.4, 4.9, 9.0, 14.8, 21.8, 28.8, 34.1, 36,
             34.1, 28.8, 21.8, 14.8, 9.0, 4.9, 2.4, 1.9, 0, 0]
wind_d_t = [-240, 140, 150, 160, 170, 180, 190, 200, 210, 220, 230, 240, 250, 260, 360]
wind_d_v = [0, 0.0074, 0.0167, 0.036, 0.073, 0.132, 0.204, 0.267, 0.308, 0.330, 0.341, 0.346, 0.348, 0.349, 0.35]
obs_d_h = [-0.5, 0.5, 3, 5]
obs_d_v = [0.0, 0.09, 0.04, 0.36]

panels = [
    dict(gray=gray_a, core=(core_a_t, core_a_v), black=black_a, green=(green_a_t, green_a_v),
         wind=(wind_a_t, wind_a_v), obs=(obs_a_h, obs_a_v)),
    dict(gray=gray_b, core=(core_b_t, core_b_v), black=black_b, green=(green_b_t, green_b_v),
         wind=(wind_b_t, wind_b_v), obs=(obs_b_h, obs_b_v)),
    dict(gray=gray_c, core=(core_c_t, core_c_v), black=black_c, green=(green_c_t, green_c_v),
         wind=(wind_c_t, wind_c_v), obs=(obs_c_h, obs_c_v)),
    dict(gray=gray_d, core=(core_d_t, core_d_v), black=black_d, green=(green_d_t, green_d_v),
         wind=(wind_d_t, wind_d_v), obs=(obs_d_h, obs_d_v)),
]

FRAME = "#8c8c8c"
TEXT = "#262626"
GREEN = "#14e68c"
MAGENTA = "#ff00ff"


def hours(minutes):
    return np.asarray(minutes, dtype=float) / 60.0


def pairs_to_xy(pairs):
    # None entries break the line (missing samples)
    t = [np.nan if p is None else p[0] for p in pairs]
    v = [np.nan if p is None else p[1] for p in pairs]
    return hours(t), np.asarray(v, dtype=float)


def hour_label(h):
    return ("-" if h < 0 else "") + f"{abs(h):02d}:00"


def style_axis(ax):
    for s in ax.spines.values():
        s.set_color(FRAME)
        s.set_linewidth(0.8)
    ax.tick_params(direction="in", length=7, width=0.8, color=FRAME,
                   labelcolor=TEXT, labelsize=14)


fig = plt.figure(figsize=(11.47, 8.84), dpi=100)
bottoms = [0.793, 0.5498, 0.3066, 0.0633]

for i, p in enumerate(panels):
    ax = fig.add_axes([0.0854, bottoms[i], 0.8439, 0.173])

    for trace in p["gray"]:
        start, vals = trace[0], trace[1]
        step = trace[2] if len(trace) > 2 else GRAY_STEP
        t = (start + step * np.arange(len(vals))) / 60.0
        ax.plot(t, vals, color="#808080", lw=0.55, zorder=1)
    ct, cv = p["core"]
    ax.fill_between(hours(ct), 0, cv, color="#8c8c8c", alpha=0.85, lw=0, zorder=1.5)

    bt, bv = pairs_to_xy(p["black"])
    ax.plot(bt, bv, color="black", lw=2.2, zorder=3, solid_capstyle="butt")
    gt, gv = p["green"]
    ax.plot(hours(gt), gv, color=GREEN, lw=2.0, zorder=4)

    ax.set_xlim(-4, 6)
    ax.set_ylim(0, 40)
    ax.set_yticks([0, 20, 40])
    ax.set_xticks(HOUR_TICKS)
    ax.tick_params(axis="x", top=True)
    style_axis(ax)
    ax.tick_params(axis="x", pad=9)
    if i == 3:
        ax.set_xticklabels([hour_label(h) for h in HOUR_TICKS])
        ax.set_xlabel("Hours before/after maximum rain rate", fontsize=14,
                      color=TEXT, labelpad=2)
    else:
        ax.set_xticklabels([])
    ax.set_ylabel("Rain rate\n[mm hr$^{-1}$]", fontsize=14, color=TEXT,
                  linespacing=1.1, labelpad=6)
    ax.set_title(TITLES[i], fontsize=15, fontweight="bold", pad=3)
    ax.text(0.012, 0.80, LETTERS[i], transform=ax.transAxes, fontsize=23,
            fontweight="bold", family=["Liberation Sans", "DejaVu Sans"],
            va="center", ha="left", zorder=6)

    ax2 = ax.twinx()
    wt, wv = p["wind"]
    ax2.plot(hours(wt), wv, color=MAGENTA, lw=1.6, zorder=5)
    oh, ov = p["obs"]
    ax2.plot(oh, ov, "o", color=MAGENTA, markersize=9.5, clip_on=False, zorder=6)
    ax2.set_ylim(-1, 1)
    ax2.set_yticks([-1, 0, 1])
    ax2.set_yticklabels(["-1", "0", "1"])
    ax2.set_xlim(-4, 6)
    style_axis(ax2)
    ax2.set_ylabel("Change in wind speed\n[m s$^{-1}$]", fontsize=13, color=TEXT,
                   linespacing=1.1, labelpad=4)

fig.savefig("out.png", dpi=100)
